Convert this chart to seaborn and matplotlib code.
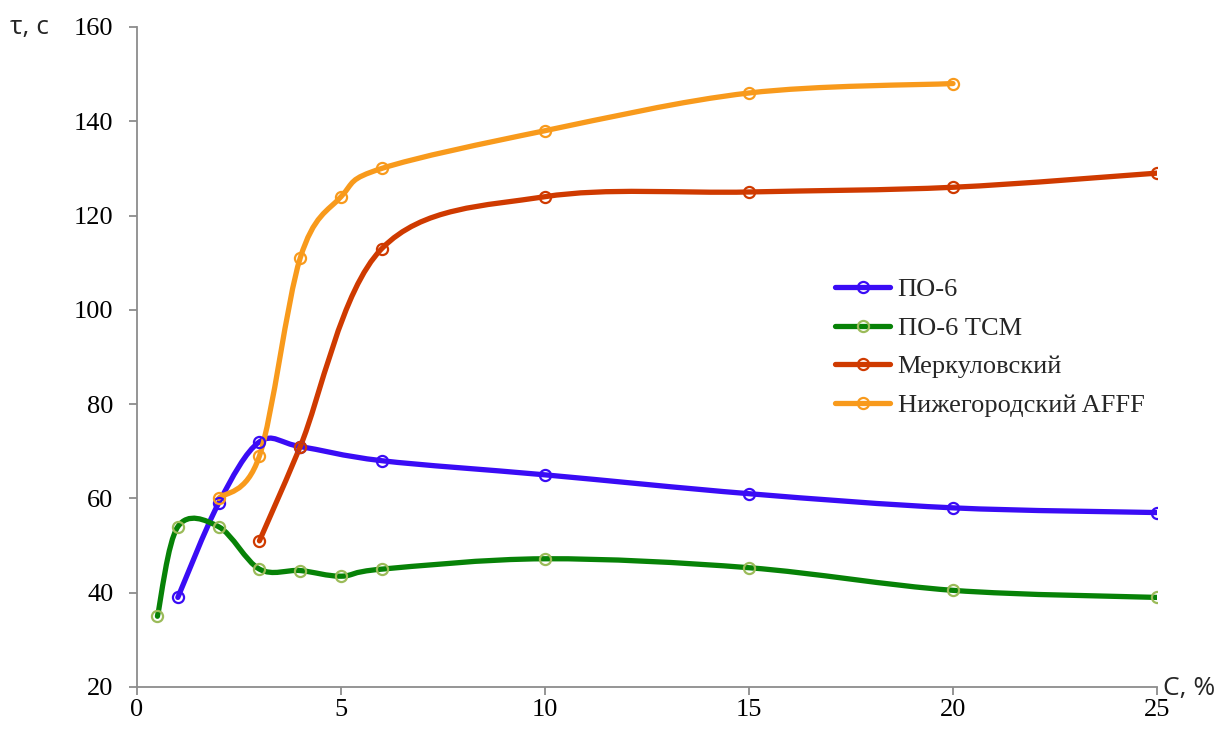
import numpy as np
import pandas as pd
import seaborn as sns
import matplotlib
matplotlib.use('Agg')
import matplotlib.pyplot as plt
from matplotlib.path import Path
from matplotlib.patches import PathPatch
from matplotlib.lines import Line2D

# data
po6_x = [1, 2, 3, 4, 6, 10, 15, 20, 25]
po6_y = [39, 59, 72, 71, 68, 65, 61, 58, 57]

po6tsm_x = [0.5, 1, 2, 3, 4, 5, 6, 10, 15, 20, 25]
po6tsm_y = [35, 54, 54, 45, 44.7, 43.5, 45, 47.2, 45.3, 40.5, 39]

merk_x = [3, 4, 6, 10, 15, 20, 25]
merk_y = [51, 71, 113, 124, 125, 126, 129]

nizh_x = [2, 3, 4, 5, 6, 10, 15, 20]
nizh_y = [60, 69, 111, 124, 130, 138, 146, 148]

names = ['ПО-6', 'ПО-6 ТСМ', 'Меркуловский', 'Нижегородский AFFF']
line_colors = ['#3A0CF5', '#078207', '#CF3A00', '#F89A1C']
edge_colors = ['#3A0CF5', '#9BBB59', '#CF3A00', '#F89A1C']

sns.set_style('white')
plt.rcParams['font.family'] = ['Liberation Serif', 'DejaVu Serif']


def smooth_path(xs, ys):
    # excel-like smoothed line: cubic bezier through the points
    p = np.column_stack([xs, ys]).astype(float)
    n = len(p)
    verts = [p[0]]
    codes = [Path.MOVETO]
    for i in range(n - 1):
        p0 = p[i - 1] if i > 0 else p[i]
        p3 = p[i + 2] if i + 2 < n else p[i + 1]
        c1 = p[i] + (p[i + 1] - p0) / 6
        c2 = p[i + 1] - (p3 - p[i]) / 6
        verts += [c1, c2, p[i + 1]]
        codes += [Path.CURVE4] * 3
    return Path(verts, codes)


fig = plt.figure(figsize=(12.17, 7.31), dpi=100)
ax = fig.add_axes([0.1126, 0.0602, 0.8381, 0.9029])

series = [(po6_x, po6_y), (po6tsm_x, po6tsm_y), (merk_x, merk_y), (nizh_x, nizh_y)]
for (xs, ys), lc, ec in zip(series, line_colors, edge_colors):
    patch = PathPatch(smooth_path(xs, ys), fill=False, edgecolor=lc, lw=3.8,
                      capstyle='round', joinstyle='round', zorder=2)
    ax.add_patch(patch)
    sns.lineplot(x=xs, y=ys, ax=ax, linestyle='', marker='o', markersize=8,
                 markerfacecolor='none', markeredgecolor=ec, markeredgewidth=1.6,
                 color=lc, legend=False, zorder=3)

ax.set_xlim(0, 25)
ax.set_ylim(20, 160)
ax.set_xticks([0, 5, 10, 15, 20, 25])
ax.set_yticks(range(20, 161, 20))
ax.set_xlabel('')
ax.set_ylabel('')

for s in ['top', 'right']:
    ax.spines[s].set_visible(False)
for s in ['left', 'bottom']:
    ax.spines[s].set_color('#8C8C8C')
    ax.spines[s].set_linewidth(1.3)
ax.tick_params(axis='both', direction='out', length=6, width=1.3, color='#8C8C8C',
               labelsize=19, labelcolor='black', left=True, bottom=True)
ax.tick_params(axis='y', pad=11)
ax.tick_params(axis='x', pad=3)

fig.text(0.008, 0.962, 'τ, с', fontsize=19, family=['Open Sans', 'DejaVu Sans'],
         va='center', ha='left')
fig.text(0.956, 0.058, 'С, %', fontsize=19, family=['Open Sans', 'DejaVu Sans'],
         va='center', ha='left')

handles = [Line2D([], [], color=lc, lw=3.8, marker='o', markersize=8,
                  markerfacecolor='none', markeredgecolor=ec, markeredgewidth=1.6)
           for lc, ec in zip(line_colors, edge_colors)]
ax.legend(handles, names, loc='upper left', bbox_to_anchor=(0.661, 0.656),
          frameon=False, fontsize=19, handlelength=2.1, handletextpad=0.27,
          labelspacing=0.57)

fig.savefig('out.png', dpi=100)
